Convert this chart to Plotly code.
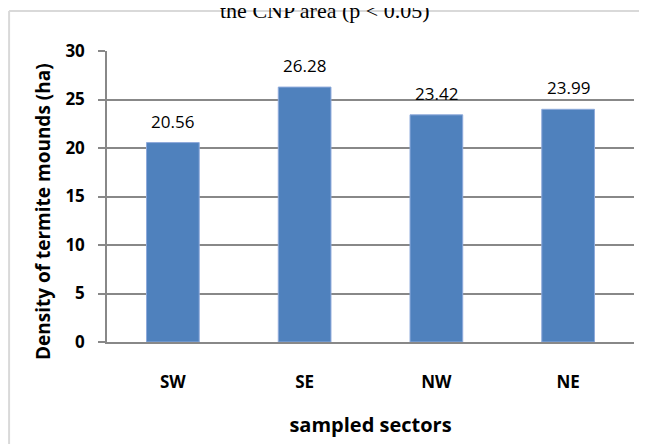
import plotly.graph_objects as go

categories = ["SW", "SE", "NW", "NE"]
values = [20.56, 26.28, 23.42, 23.99]
value_labels = ["20.56", "26.28", "23.42", "23.99"]
y_ticks = [0, 5, 10, 15, 20, 25, 30]

OFF = 8  # default page body margin
W, H = 647 - OFF, 444 - OFF
L, T = 107 - OFF, 51 - OFF
R = W - (634.5 - OFF)
B = H - (342 - OFF)
pw, ph = W - L - R, H - T - B

def px(x):
    return (x - OFF - L) / pw

def py(y):
    return (H - B - (y - OFF)) / ph

FONT = "Open Sans"

fig = go.Figure(go.Bar(
    x=categories, y=values, width=0.4,
    marker=dict(color="#4F81BD", line=dict(color="#8EAADB", width=1)),
))

for c, v, s in zip(categories, values, value_labels):
    fig.add_annotation(x=c, y=v, text=s, showarrow=False, yanchor="bottom", yshift=8,
                       font=dict(family=FONT, size=17, color="#000000"))

fig.update_layout(
    width=W, height=H, margin=dict(l=L, r=R, t=T, b=B),
    paper_bgcolor="white", plot_bgcolor="white", showlegend=False,
    font=dict(family=FONT, color="#000000"),
    xaxis=dict(showgrid=False, showline=True, linecolor="#888888", linewidth=1.5,
               ticks="", ticklabelstandoff=24,
               tickfont=dict(family=FONT, size=17, color="#000000", weight="bold"),
               title=dict(text="<b>sampled sectors</b>", font=dict(family=FONT, size=20), standoff=26)),
    yaxis=dict(range=[0, 30], tickvals=y_ticks, showgrid=True, gridcolor="#888888", gridwidth=1.5,
               showline=True, linecolor="#888888", linewidth=1.5, ticks="outside", ticklen=7,
               tickcolor="#888888", tickwidth=1.5, zeroline=False, ticklabelstandoff=10,
               tickfont=dict(family=FONT, size=17, color="#000000", weight="bold")),
)

fig.add_annotation(text="<b>Density of termite mounds (ha)</b>", xref="paper", yref="paper",
                   x=px(43), y=py(212), xanchor="center", yanchor="middle", textangle=-90,
                   showarrow=False, font=dict(family=FONT, size=19, color="#000000"))

fig.add_annotation(text="the CNP area (p < 0.05)", xref="paper", yref="paper",
                   x=px(325), y=py(25), xanchor="center", yanchor="bottom", showarrow=False,
                   font=dict(family="Liberation Serif", size=22, color="#000000"))

fig.add_shape(type="line", xref="paper", yref="paper", x0=px(9), x1=px(660), y0=py(11), y1=py(11),
              line=dict(color="#D9D9D9", width=2))
fig.add_shape(type="line", xref="paper", yref="paper", x0=px(9), x1=px(9), y0=py(11), y1=py(460),
              line=dict(color="#D9D9D9", width=2))

fig.write_html("out.html")
